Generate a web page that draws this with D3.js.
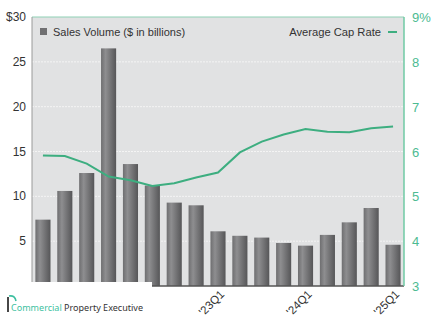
<!DOCTYPE html>
<html>
<head>
<meta charset="utf-8">
<script src="https://cdn.jsdelivr.net/npm/d3@7"></script>
<style>
  body { margin: 0; background: #fff; }
  svg { display: block; font-family: "Liberation Sans", Arial, sans-serif; }
</style>
</head>
<body>
<div id="chart"></div>
<script>
// quarters from '21Q1 to '25Q1
const quarters = ["21Q1","21Q2","21Q3","21Q4","22Q1","22Q2","22Q3","22Q4",
  "23Q1","23Q2","23Q3","23Q4","24Q1","24Q2","24Q3","24Q4","25Q1"];
const salesVolume = [7.4, 10.6, 12.6, 26.5, 13.6, 11.2, 9.3, 9.0, 6.1, 5.6, 5.4, 4.8, 4.5, 5.7, 7.1, 8.7, 4.6];
const capRate = [5.91, 5.90, 5.73, 5.44, 5.36, 5.23, 5.29, 5.42, 5.53, 5.98, 6.22, 6.38, 6.50, 6.44, 6.43, 6.52, 6.56];
const leftTicks = [5, 10, 15, 20, 25, 30];
const rightTicks = [3, 4, 5, 6, 7, 8, 9];
const labelled = ["23Q1", "24Q1", "25Q1"];

const width = 440, height = 327;
const margin = {top: 17, right: 36, bottom: 41, left: 32};
const green = "#3dae80";

const svg = d3.select("#chart").append("svg")
  .attr("width", width).attr("height", height);

const defs = svg.append("defs");
const grad = defs.append("linearGradient").attr("id", "barGrad");
grad.append("stop").attr("offset", "0%").attr("stop-color", "#6e6e70");
grad.append("stop").attr("offset", "30%").attr("stop-color", "#8e8e90");
grad.append("stop").attr("offset", "100%").attr("stop-color", "#565658");

const x = d3.scaleBand()
  .domain(quarters)
  .range([margin.left, width - margin.right])
  .paddingInner(0.31)
  .paddingOuter(0.155);

const yL = d3.scaleLinear().domain([0, 30]).range([height - margin.bottom, margin.top]);
const yR = d3.scaleLinear().domain([3, 9]).range([height - margin.bottom, margin.top]);

// plot background
svg.append("rect")
  .attr("x", margin.left).attr("y", margin.top)
  .attr("width", width - margin.left - margin.right)
  .attr("height", height - margin.top - margin.bottom)
  .attr("fill", "#e1e2e3");

// gridlines
svg.append("g").selectAll("line")
  .data(leftTicks.filter(d => d < 30))
  .join("line")
  .attr("x1", margin.left).attr("x2", width - margin.right)
  .attr("y1", d => yL(d)).attr("y2", d => yL(d))
  .attr("stroke", "#f4f4f4").attr("stroke-width", 1)
  .attr("stroke-dasharray", "2,1");

// bars
svg.append("g").selectAll("rect")
  .data(salesVolume)
  .join("rect")
  .attr("x", (d, i) => x(quarters[i]))
  .attr("y", d => yL(d))
  .attr("width", x.bandwidth())
  .attr("height", d => yL(0) - yL(d))
  .attr("fill", "url(#barGrad)");

// cap rate line
svg.append("path")
  .datum(capRate)
  .attr("fill", "none")
  .attr("stroke", green)
  .attr("stroke-width", 2)
  .attr("d", d3.line()
    .x((d, i) => x(quarters[i]) + x.bandwidth() / 2)
    .y(d => yR(d)));

// frame
svg.append("line")
  .attr("x1", margin.left).attr("x2", width - margin.right)
  .attr("y1", margin.top).attr("y2", margin.top)
  .attr("stroke", "#8fd0b5").attr("stroke-width", 1);
svg.append("line")
  .attr("x1", margin.left).attr("x2", margin.left)
  .attr("y1", margin.top).attr("y2", height - margin.bottom)
  .attr("stroke", "#9a9a9a").attr("stroke-width", 1);
svg.append("line")
  .attr("x1", margin.left).attr("x2", width - margin.right)
  .attr("y1", height - margin.bottom).attr("y2", height - margin.bottom)
  .attr("stroke", "#555").attr("stroke-width", 1.5);
svg.append("line")
  .attr("x1", width - margin.right).attr("x2", width - margin.right)
  .attr("y1", margin.top).attr("y2", height - margin.bottom)
  .attr("stroke", "#6fcaa5").attr("stroke-width", 1.5);

// left axis labels
svg.append("g").selectAll("text")
  .data(leftTicks)
  .join("text")
  .attr("x", 26)
  .attr("y", d => yL(d) + 4)
  .attr("text-anchor", "end")
  .attr("font-size", 12)
  .attr("fill", "#333")
  .text(d => d === 30 ? "$30" : d);

// right axis labels
svg.append("g").selectAll("text")
  .data(rightTicks)
  .join("text")
  .attr("x", 412)
  .attr("y", d => yR(d) + 5)
  .attr("font-size", 13)
  .attr("fill", "#4dbb92")
  .text(d => d === 9 ? "9%" : d);

// x labels, rotated 45 degrees inside their own groups
const xl = svg.append("g").selectAll("g")
  .data(labelled)
  .join("g")
  .attr("transform", d => "translate(" + (x(d) + x.bandwidth() / 2 + 7) + "," + (height - margin.bottom + 9) + ") rotate(-45)");
xl.append("text")
  .attr("text-anchor", "end")
  .attr("font-size", 11.5)
  .attr("fill", "#333")
  .text(d => "'" + d);

// legends
svg.append("rect").attr("x", 40).attr("y", 28).attr("width", 7).attr("height", 7).attr("fill", "#707072");
svg.append("text").attr("x", 53).attr("y", 36).attr("font-size", 11).attr("fill", "#333")
  .text("Sales Volume ($ in billions)");
svg.append("text").attr("x", 381).attr("y", 36).attr("font-size", 11.2).attr("fill", "#333")
  .attr("text-anchor", "end").text("Average Cap Rate");
svg.append("line").attr("x1", 388).attr("x2", 397).attr("y1", 32).attr("y2", 32)
  .attr("stroke", green).attr("stroke-width", 2);

// logo box
svg.append("rect").attr("x", 0).attr("y", 282).attr("width", 152).attr("height", 45).attr("fill", "#fff");
svg.append("path")
  .attr("d", "M8,312 L8,297")
  .attr("fill", "none").attr("stroke", "#333").attr("stroke-width", 1.8);
svg.append("path")
  .attr("d", "M9,296 Q15,295 16,301")
  .attr("fill", "none").attr("stroke", "#3dbfa0").attr("stroke-width", 1.6);
const logo = svg.append("text").attr("x", 11).attr("y", 311).attr("font-size", 9.6)
  .attr("font-family", "'Noto Sans', sans-serif")
  .attr("textLength", 132).attr("lengthAdjust", "spacingAndGlyphs");
logo.append("tspan").attr("fill", "#3dbfa0").text("Commercial");
logo.append("tspan").attr("fill", "#333").text(" Property Executive");
</script>
</body>
</html>
